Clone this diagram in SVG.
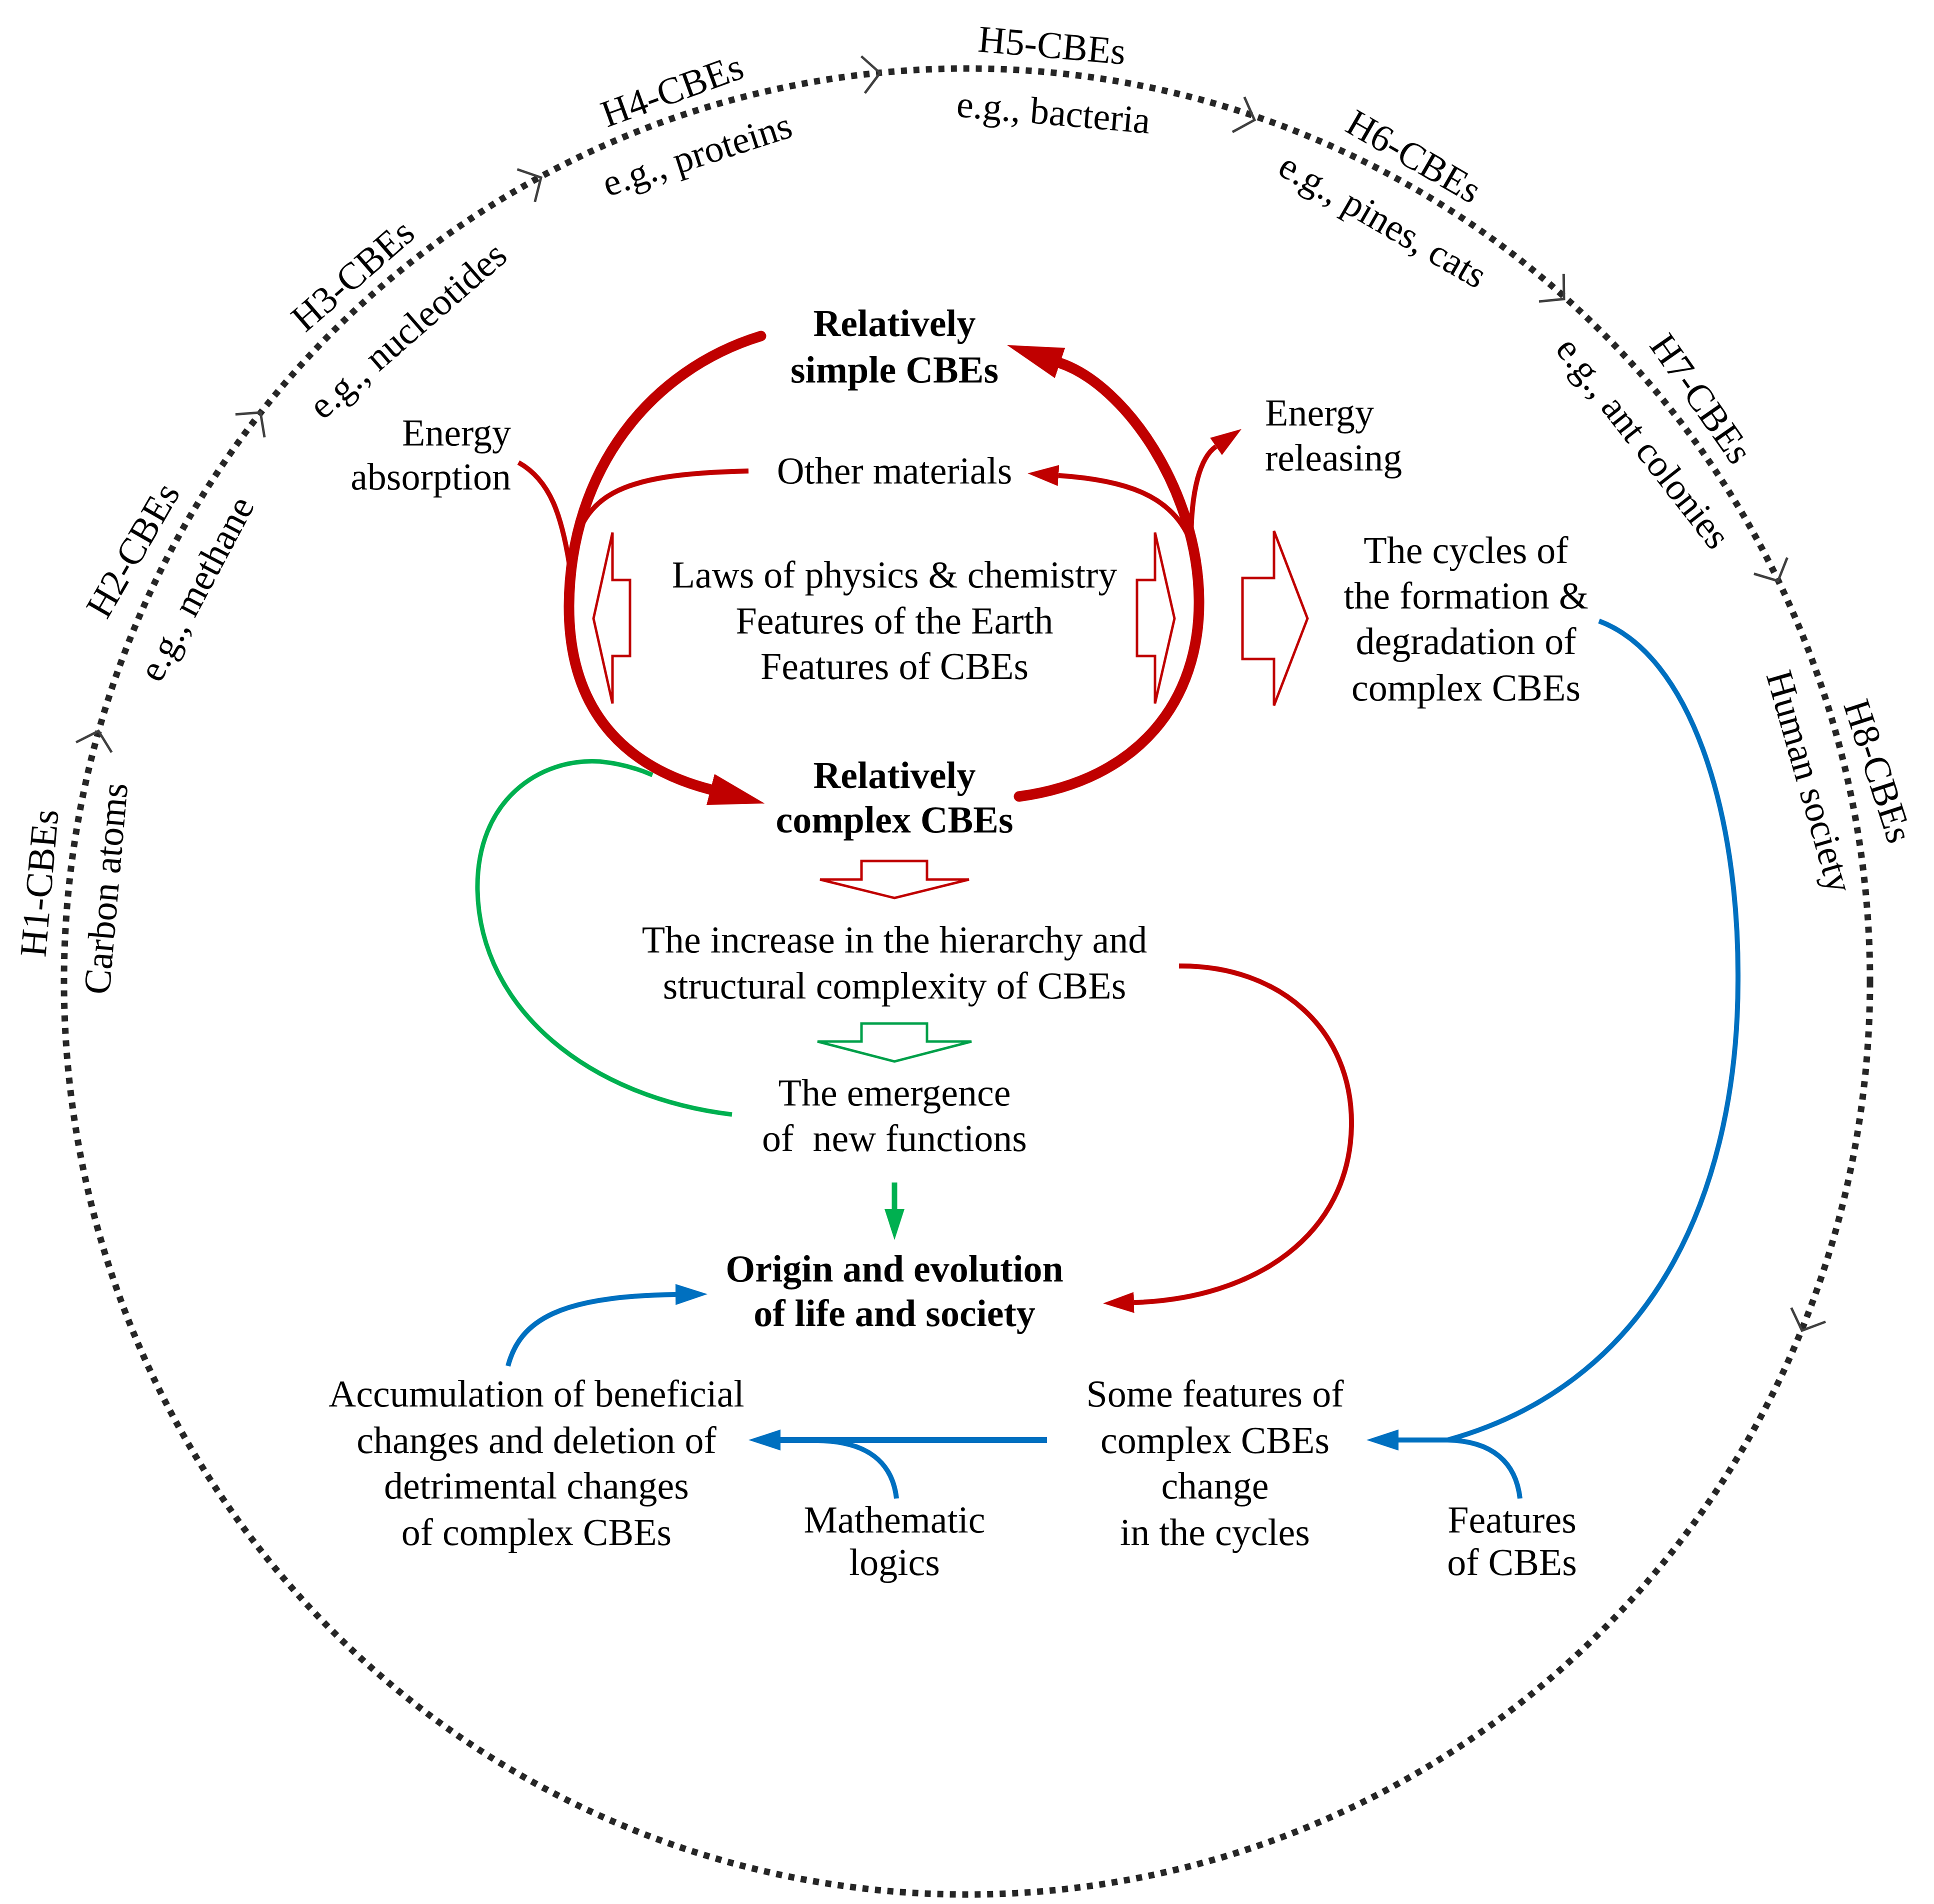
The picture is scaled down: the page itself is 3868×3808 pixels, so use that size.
<svg xmlns="http://www.w3.org/2000/svg" width="3868" height="3808" viewBox="0 0 3868 3808">
<style>
text { font-family: "Liberation Serif", "Times New Roman", serif; font-size: 76px; fill: #000; }
.c { text-anchor: middle; }
.e { text-anchor: end; }
.s { text-anchor: start; }
.b { font-weight: bold; }
.ring { fill: none; stroke: #262626; stroke-width: 13; stroke-dasharray: 12 13; }
.chev { fill: none; stroke: #404040; stroke-width: 5; }
.red { fill: none; stroke: #C00000; }
.redT { stroke-width: 21; stroke-linecap: round; }
.redM { stroke-width: 10; }
.blue { fill: none; stroke: #0070C0; stroke-width: 10; }
.green { fill: none; stroke: #00B050; stroke-width: 9; }
.hollowR { fill: #fff; stroke: #C00000; stroke-width: 5; }
.hollowG { fill: #fff; stroke: #00A04A; stroke-width: 5; }
</style>
<defs>
<marker id="ahRedBig" markerUnits="userSpaceOnUse" orient="auto" refX="0" refY="0" markerWidth="120" markerHeight="70" viewBox="0 -35 120 70"><path d="M0,-32 L112,0 L0,32 z" fill="#C00000"/></marker>
<marker id="ahRed" markerUnits="userSpaceOnUse" orient="auto" refX="0" refY="0" markerWidth="70" markerHeight="50" viewBox="0 -25 70 50"><path d="M0,-21 L62,0 L0,21 z" fill="#C00000"/></marker>
<marker id="ahBlue" markerUnits="userSpaceOnUse" orient="auto" refX="0" refY="0" markerWidth="70" markerHeight="50" viewBox="0 -25 70 50"><path d="M0,-21 L64,0 L0,21 z" fill="#0070C0"/></marker>
<marker id="ahGreen" markerUnits="userSpaceOnUse" orient="auto" refX="0" refY="0" markerWidth="70" markerHeight="50" viewBox="0 -25 70 50"><path d="M0,-20 L62,0 L0,20 z" fill="#00B050"/></marker>
<path id="chev" d="M-34,-37 L0,0 L-34,37"/>
</defs>
<rect x="0" y="0" width="3868" height="3808" fill="#fff"/>

<g id="ring">
<ellipse class="ring" cx="1934" cy="1963" rx="1806" ry="1826"/>
<g class="chev">
<use href="#chev" transform="translate(197,1462) rotate(-74.2)"/>
<use href="#chev" transform="translate(521,825) rotate(-51.8)"/>
<use href="#chev" transform="translate(1082,355) rotate(-28.5)"/>
<use href="#chev" transform="translate(1760,146) rotate(-5.6)"/>
<use href="#chev" transform="translate(2509,240) rotate(18.8)"/>
<use href="#chev" transform="translate(3128,598) rotate(41.8)"/>
<use href="#chev" transform="translate(3556,1162) rotate(64.2)"/>
<use href="#chev" transform="translate(3604,2661) rotate(112.2)"/>
</g>
</g>

<g id="ring-labels">
<g id="h1"><text class="c" transform="translate(78,1766) rotate(-85)" y="26">H1-CBEs</text><text class="c" transform="translate(211,1777) rotate(-85)" y="26">Carbon atoms</text></g>
<g id="h2"><text class="c" transform="translate(265,1100) rotate(-60)" y="26">H2-CBEs</text><text class="c" transform="translate(392,1177) rotate(-62)" y="26">e.g., methane</text></g>
<g id="h3"><text class="c" transform="translate(705,550) rotate(-41)" y="26">H3-CBEs</text><text class="c" transform="translate(815,660) rotate(-41)" y="26">e.g., nucleotides</text></g>
<g id="h4"><text class="c" transform="translate(1344,180) rotate(-20)" y="26">H4-CBEs</text><text class="c" transform="translate(1394,308) rotate(-18)" y="26">e.g., proteins</text></g>
<g id="h5"><text class="c" transform="translate(2104,90) rotate(5)" y="26">H5-CBEs</text><text class="c" transform="translate(2107,224) rotate(5)" y="26">e.g., bacteria</text></g>
<g id="h6"><text class="c" transform="translate(2828,312) rotate(30)" y="26">H6-CBEs</text><text class="c" transform="translate(2766,440) rotate(30)" y="26">e.g., pines, cats</text></g>
<g id="h7"><text class="c" transform="translate(3403,797) rotate(55)" y="26">H7-CBEs</text><text class="c" transform="translate(3287,885) rotate(52)" y="26">e.g., ant colonies</text></g>
<g id="h8"><text class="c" transform="translate(3757,1542) rotate(72)" y="26">H8-CBEs</text><text class="c" transform="translate(3620,1563) rotate(74)" y="26">Human society</text></g>
</g>

<g id="connectors">
<path class="green" d="M1464,2229 C1180,2195 960,2020 955,1780 C952,1600 1080,1515 1200,1523 C1240,1527 1275,1537 1305,1550"/>
<path class="red redT" d="M1522,672 C1300,740 1140,940 1138,1211 C1137,1440 1270,1540 1421,1579" marker-end="url(#ahRedBig)"/>
<path class="red redT" d="M2038,1593 C2280,1560 2400,1400 2398,1200 C2396,980 2250,770 2120,726" marker-end="url(#ahRedBig)"/>
<path class="red redM" d="M1497,942 C1230,948 1160,990 1140,1135"/>
<path class="red redM" d="M1037,925 C1100,960 1125,1030 1142,1150"/>
<path class="red redM" d="M2378,1075 C2340,990 2250,960 2117,951" marker-end="url(#ahRed)"/>
<path class="red redM" d="M2382,1075 C2383,980 2400,915 2432,893" marker-end="url(#ahRed)"/>
<path class="red redM" d="M2358,1932 C2560,1930 2705,2060 2703,2250 C2700,2470 2510,2598 2268,2605" marker-end="url(#ahRed)"/>
<path class="green" style="stroke-width:11" d="M1789,2365 L1789,2418" marker-end="url(#ahGreen)"/>
<path class="blue" d="M1016,2732 C1040,2640 1120,2592 1351,2589" marker-end="url(#ahBlue)"/>
<path class="blue" style="stroke-width:12" d="M2094,2880 L1561,2880" marker-end="url(#ahBlue)"/>
<path class="blue" d="M1793,2997 C1785,2925 1735,2882 1633,2881"/>
<path class="blue" d="M3198,1242 C3380,1310 3478,1620 3476,1960 C3476,2350 3330,2760 2895,2880 L2797,2880" marker-end="url(#ahBlue)"/>
<path class="blue" d="M3040,2997 C3032,2925 2985,2882 2895,2880"/>
<polygon class="hollowR" points="1187,1237 1225,1065 1225,1160 1260,1160 1260,1312 1225,1312 1225,1407"/>
<polygon class="hollowR" points="2349,1237 2310,1065 2310,1160 2274,1160 2274,1312 2310,1312 2310,1407"/>
<polygon class="hollowR" points="2615,1237 2548,1062 2548,1156 2485,1156 2485,1318 2548,1318 2548,1411"/>
<polygon class="hollowR" points="1723,1722 1854,1722 1854,1759 1938,1759 1789,1796 1640,1759 1723,1759"/>
<polygon class="hollowG" points="1723,2047 1854,2047 1854,2083 1943,2083 1789,2123 1635,2083 1723,2083"/>
</g>

<g id="simple"><text class="c b" x="1789" y="672">Relatively</text><text class="c b" x="1789" y="765">simple CBEs</text></g>
<g id="energy-absorption"><text class="e" x="1022" y="891">Energy</text><text class="e" x="1022" y="979">absorption</text></g>
<g id="other-materials"><text class="c" x="1789" y="967">Other materials</text></g>
<g id="energy-releasing"><text class="s" x="2530" y="851">Energy</text><text class="s" x="2530" y="941">releasing</text></g>
<g id="laws"><text class="c" x="1789" y="1175">Laws of physics &amp; chemistry</text><text class="c" x="1789" y="1267">Features of the Earth</text><text class="c" x="1789" y="1358">Features of CBEs</text></g>
<g id="cycles"><text class="c" x="2932" y="1126">The cycles of</text><text class="c" x="2932" y="1217">the formation &amp;</text><text class="c" x="2932" y="1308">degradation of</text><text class="c" x="2932" y="1401">complex CBEs</text></g>
<g id="complex"><text class="c b" x="1789" y="1576">Relatively</text><text class="c b" x="1789" y="1665">complex CBEs</text></g>
<g id="increase"><text class="c" x="1789" y="1905">The increase in the hierarchy and</text><text class="c" x="1789" y="1997">structural complexity of CBEs</text></g>
<g id="emergence"><text class="c" x="1789" y="2211">The emergence</text><text class="c" x="1789" y="2302" style="white-space:pre">of  new functions</text></g>
<g id="origin"><text class="c b" x="1789" y="2563">Origin and evolution</text><text class="c b" x="1789" y="2652">of life and society</text></g>
<g id="accumulation"><text class="c" x="1073" y="2813">Accumulation of beneficial</text><text class="c" x="1073" y="2906">changes and deletion of</text><text class="c" x="1073" y="2997">detrimental changes</text><text class="c" x="1073" y="3090">of complex CBEs</text></g>
<g id="mathematic"><text class="c" x="1789" y="3065">Mathematic</text><text class="c" x="1789" y="3150">logics</text></g>
<g id="some-features"><text class="c" x="2430" y="2813">Some features of</text><text class="c" x="2430" y="2906">complex CBEs</text><text class="c" x="2430" y="2997">change</text><text class="c" x="2430" y="3090">in the cycles</text></g>
<g id="features"><text class="c" x="3024" y="3065">Features</text><text class="c" x="3024" y="3150">of CBEs</text></g>
</svg>
